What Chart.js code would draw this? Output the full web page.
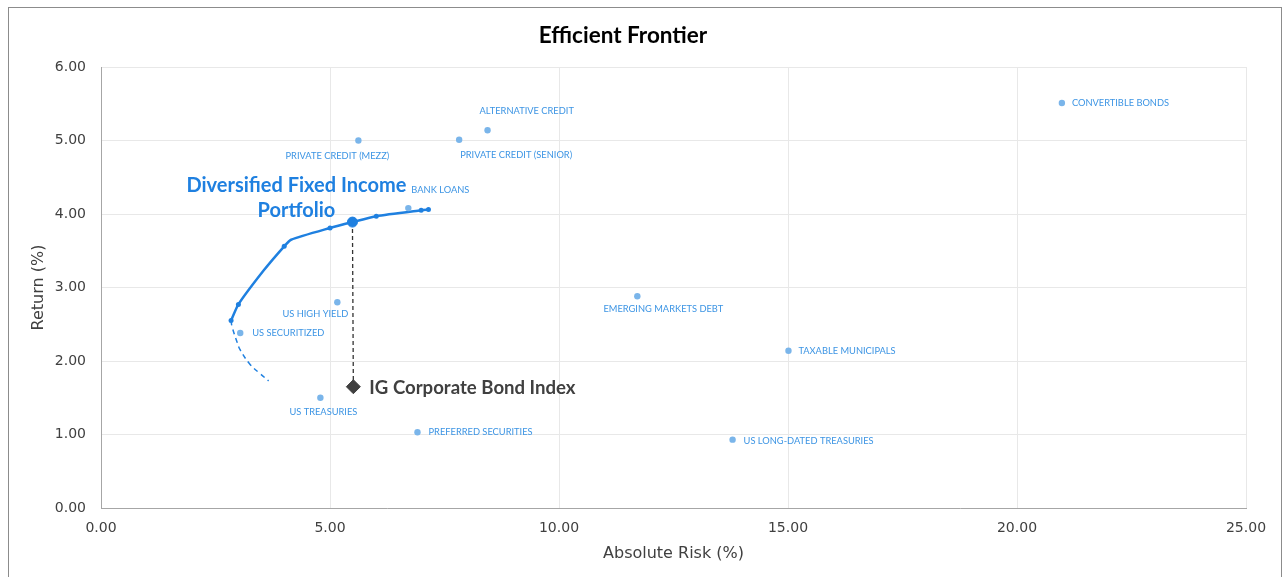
<!DOCTYPE html>
<html>
<head>
<meta charset="utf-8">
<title>Efficient Frontier</title>
<script src="https://cdn.jsdelivr.net/npm/chart.js@4.4.1/dist/chart.umd.min.js"></script>
<style>
    html, body { margin: 0; padding: 0; background: #ffffff; }
    #wrap { position: relative; width: 1287px; height: 577px; }
</style>
</head>
<body>
<div id="wrap"><canvas id="frontierChart" width="1287" height="577"></canvas></div>
<script>
// frontier (solid part), risk / return in %
var frontierRisk   = [2.84, 3.00, 3.55, 4.00, 4.15, 5.00, 5.49, 6.01, 6.99, 7.15];
var frontierReturn = [2.55, 2.77, 3.23, 3.56, 3.65, 3.81, 3.89, 3.97, 4.05, 4.06];
var frontierMarked = [true, true, false, true, false, true, true, true, true, true];

// lower (inefficient) part of the frontier, dashed
var lowerRisk   = [2.84, 2.86, 2.97, 3.04, 3.26, 3.47, 3.66];
var lowerReturn = [2.55, 2.47, 2.26, 2.15, 1.95, 1.83, 1.73];

// asset classes
var assetNames = [
    'CONVERTIBLE BONDS',
    'ALTERNATIVE CREDIT',
    'PRIVATE CREDIT (SENIOR)',
    'PRIVATE CREDIT (MEZZ)',
    'BANK LOANS',
    'US HIGH YIELD',
    'US SECURITIZED',
    'US TREASURIES',
    'PREFERRED SECURITIES',
    'EMERGING MARKETS DEBT',
    'TAXABLE MUNICIPALS',
    'US LONG-DATED TREASURIES'
];
var assetRisk   = [20.98, 8.44, 7.82, 5.62, 6.71, 5.16, 3.04, 4.79, 6.91, 11.71, 15.01, 13.79];
var assetReturn = [5.51, 5.14, 5.01, 5.00, 4.08, 2.80, 2.38, 1.50, 1.03, 2.88, 2.14, 0.93];

// portfolio and benchmark
var portfolioRisk = 5.49, portfolioReturn = 3.89;
var indexRisk = 5.51, indexReturn = 1.65;

var xTicks = [0, 5, 10, 15, 20, 25];
var yTicks = [0, 1, 2, 3, 4, 5, 6];

// label placement: [dx, dy, align]
var assetLabelPos = [
    [10, 0, 'left'],
    [-8, -19, 'left'],
    [1, 15, 'left'],
    [-21, 15, 'center'],
    [3, -18, 'left'],
    [-22, 12, 'center'],
    [12, 0, 'left'],
    [3, 14, 'center'],
    [11, 0, 'left'],
    [26, 13, 'center'],
    [10, 0, 'left'],
    [11, 1, 'left']
];

var blue = '#1f80e0';
var lightBlue = '#7ab5ea';
var labelBlue = '#3d95e4';

function toPoints(xs, ys) {
    var pts = [];
    for (var i = 0; i < xs.length; i++) {
        pts.push({x: xs[i], y: ys[i]});
    }
    return pts;
}

var frontierRadius = frontierMarked.map(function (m) { return m ? 2.5 : 0; });

var labelPlugin = {
    id: 'labels',
    beforeDraw: function (chart) {
        var ctx = chart.ctx;
        ctx.save();
        ctx.strokeStyle = '#8c8c8c';
        ctx.lineWidth = 1;
        ctx.strokeRect(8.5, 7.5, 1273, 600);
        ctx.restore();
    },
    afterDatasetsDraw: function (chart) {
        var ctx = chart.ctx;
        var xs = chart.scales.x, ys = chart.scales.y;
        ctx.save();
        ctx.textBaseline = 'middle';
        ctx.font = '9.3px Lato';
        ctx.fillStyle = labelBlue;
        for (var i = 0; i < assetNames.length; i++) {
            var px = xs.getPixelForValue(assetRisk[i]);
            var py = ys.getPixelForValue(assetReturn[i]);
            var p = assetLabelPos[i];
            ctx.textAlign = p[2];
            ctx.fillText(assetNames[i], px + p[0], py + p[1]);
        }
        // portfolio label
        var qx = xs.getPixelForValue(portfolioRisk);
        var qy = ys.getPixelForValue(portfolioReturn);
        ctx.font = 'bold 20px Lato';
        ctx.fillStyle = blue;
        ctx.textAlign = 'center';
        ctx.fillText('Diversified Fixed Income', qx - 56, qy - 37);
        ctx.fillText('Portfolio', qx - 56, qy - 12);
        // index label
        var ix = xs.getPixelForValue(indexRisk);
        var iy = ys.getPixelForValue(indexReturn);
        ctx.font = 'bold 18.6px Lato';
        ctx.fillStyle = '#404040';
        ctx.textAlign = 'left';
        ctx.fillText('IG Corporate Bond Index', ix + 16, iy + 1);
        ctx.restore();
    }
};

var ctx = document.getElementById('frontierChart').getContext('2d');
var chart = new Chart(ctx, {
    type: 'scatter',
    data: {
        datasets: [
            {
                label: 'Connector',
                data: [{x: portfolioRisk, y: portfolioReturn}, {x: indexRisk, y: indexReturn}],
                showLine: true,
                borderColor: '#333333',
                borderWidth: 1.3,
                borderDash: [4, 3],
                pointRadius: 0,
                order: 5
            },
            {
                label: 'Frontier (lower)',
                data: toPoints(lowerRisk, lowerReturn),
                showLine: true,
                borderColor: blue,
                borderWidth: 1.5,
                borderDash: [5, 4],
                tension: 0.4,
                pointRadius: 0,
                order: 4
            },
            {
                label: 'Efficient Frontier',
                data: toPoints(frontierRisk, frontierReturn),
                showLine: true,
                borderColor: blue,
                backgroundColor: blue,
                borderWidth: 2.5,
                tension: 0.2,
                pointRadius: frontierRadius,
                pointBorderWidth: 0,
                order: 3
            },
            {
                label: 'Portfolio',
                data: [{x: portfolioRisk, y: portfolioReturn}],
                backgroundColor: blue,
                borderColor: blue,
                pointRadius: 5,
                order: 2
            },
            {
                label: 'Asset classes',
                data: toPoints(assetRisk, assetReturn),
                backgroundColor: lightBlue,
                borderColor: lightBlue,
                pointRadius: 3.2,
                pointBorderWidth: 0,
                order: 1
            },
            {
                label: 'IG Corporate Bond Index',
                data: [{x: indexRisk, y: indexReturn}],
                pointStyle: 'rectRot',
                backgroundColor: '#404040',
                borderColor: '#404040',
                pointRadius: 7,
                order: 0
            }
        ]
    },
    options: {
        responsive: false,
        animation: false,
        layout: { padding: { left: 0, right: 41, top: 0, bottom: 0 } },
        plugins: {
            legend: { display: false },
            tooltip: { enabled: false },
            title: {
                display: true,
                text: 'Efficient Frontier',
                color: '#000000',
                font: { family: 'Lato', size: 22.5, weight: 'bold' },
                padding: { top: 22, bottom: 18 }
            }
        },
        scales: {
            x: {
                type: 'linear',
                min: 0,
                max: 25,
                afterBuildTicks: function (axis) {
                    axis.ticks = xTicks.map(function (v) { return {value: v}; });
                },
                afterFit: function (axis) { axis.height = 69; },
                ticks: {
                    color: '#404040',
                    font: { family: 'DejaVu Sans', size: 14 },
                    padding: 12,
                    maxRotation: 0,
                    callback: function (v) { return v.toFixed(2); }
                },
                grid: { color: '#e8e8e8', drawTicks: false },
                border: { color: '#a6a6a6' },
                title: {
                    display: true,
                    text: 'Absolute Risk (%)',
                    color: '#404040',
                    font: { family: 'DejaVu Sans', size: 16 },
                    padding: { top: 0, bottom: 14 }
                }
            },
            y: {
                type: 'linear',
                min: 0,
                max: 6,
                afterBuildTicks: function (axis) {
                    axis.ticks = yTicks.map(function (v) { return {value: v}; });
                },
                afterFit: function (axis) { axis.width = 101; },
                ticks: {
                    color: '#404040',
                    font: { family: 'DejaVu Sans', size: 14 },
                    padding: 15,
                    callback: function (v) { return v.toFixed(2); }
                },
                grid: { color: '#e8e8e8', drawTicks: false },
                border: { color: '#a6a6a6' },
                title: {
                    display: true,
                    text: 'Return (%)',
                    color: '#404040',
                    font: { family: 'DejaVu Sans', size: 16 },
                    padding: { top: 29, bottom: 0 }
                }
            }
        }
    },
    plugins: [labelPlugin]
});
</script>
</body>
</html>
